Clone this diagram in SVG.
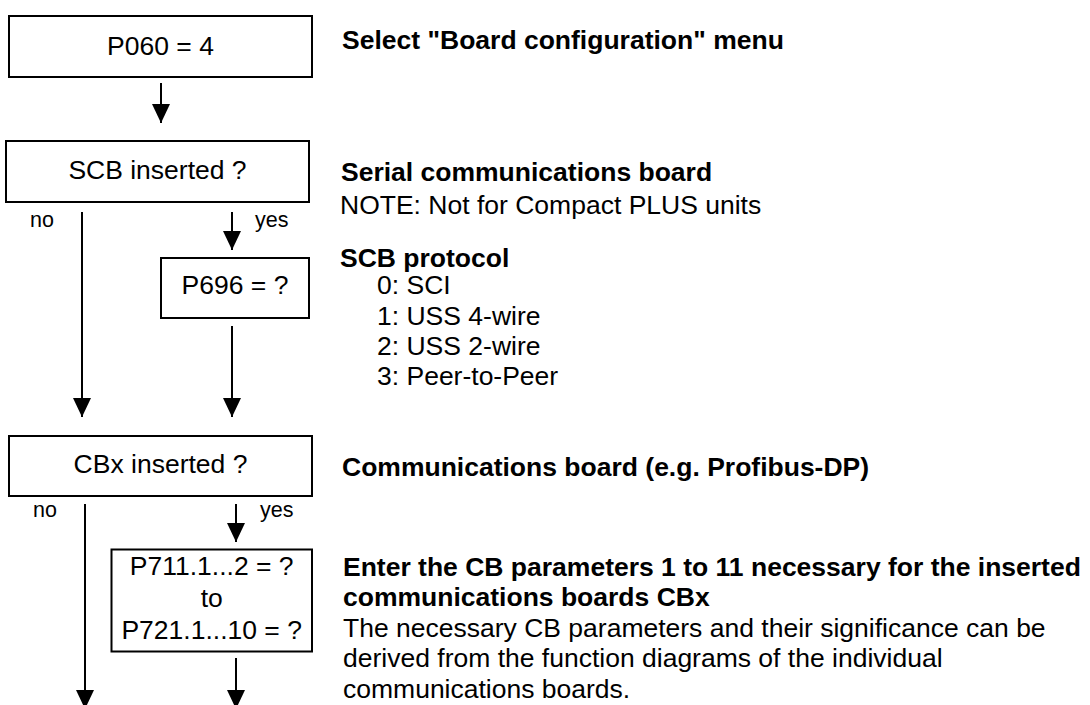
<svg xmlns="http://www.w3.org/2000/svg" width="1090" height="705" viewBox="0 0 1090 705">
<defs>
<style>
.box{fill:#fff;stroke:#000;stroke-width:2}
.t{font-family:"Liberation Sans",Arial,sans-serif;font-size:26.5px;fill:#000}
.c{text-anchor:middle}
.b{font-weight:bold}
.lbl{font-family:"Liberation Sans",Arial,sans-serif;font-size:21.5px;fill:#000}
.ln{stroke:#000;stroke-width:2;fill:none;marker-end:url(#ah)}
</style>
<marker id="ah" markerUnits="userSpaceOnUse" markerWidth="19" markerHeight="18" viewBox="0 0 19 18" refX="19" refY="9" orient="auto">
<path d="M0,0 L19,9 L0,18 z" fill="#000"/>
</marker>
</defs>
<rect width="1090" height="705" fill="#fff"/>
<g id="connectors">
<line class="ln" x1="161" y1="83" x2="161" y2="123"/>
<line class="ln" x1="82" y1="212" x2="82" y2="417"/>
<line class="ln" x1="232" y1="212" x2="232" y2="250"/>
<line class="ln" x1="232" y1="326" x2="232" y2="417"/>
<line class="ln" x1="85" y1="504" x2="85" y2="709"/>
<line class="ln" x1="236" y1="504" x2="236" y2="542"/>
<line class="ln" x1="236" y1="658" x2="236" y2="709"/>
<text class="lbl" x="30" y="227">no</text>
<text class="lbl" x="255" y="227">yes</text>
<text class="lbl" x="33" y="517">no</text>
<text class="lbl" x="260" y="517">yes</text>
</g>
<g id="n1">
<rect class="box" x="9" y="16" width="303" height="61"/>
<text class="t c" x="160.5" y="55">P060 = 4</text>
</g>
<g id="n2">
<rect class="box" x="6" y="141" width="303" height="61"/>
<text class="t c" x="157.5" y="179">SCB inserted ?</text>
</g>
<g id="n3">
<rect class="box" x="161" y="258" width="148" height="60"/>
<text class="t c" x="235" y="294">P696 = ?</text>
</g>
<g id="n4">
<rect class="box" x="9" y="436" width="303" height="60"/>
<text class="t c" x="160.5" y="473">CBx inserted ?</text>
</g>
<g id="n5">
<rect class="box" x="111.5" y="549.5" width="200.5" height="102"/>
<text class="t c" x="211.7" y="575">P711.1...2 = ?</text>
<text class="t c" x="211.7" y="607">to</text>
<text class="t c" x="211.7" y="639">P721.1...10 = ?</text>
</g>
<g id="notes">
<text class="t b" x="342" y="49">Select "Board configuration" menu</text>
<text class="t b" x="341" y="181">Serial communications board</text>
<text class="t" x="340" y="214">NOTE: Not for Compact PLUS units</text>
<text class="t b" x="340" y="267">SCB protocol</text>
<text class="t" x="377" y="294">0: SCI</text>
<text class="t" x="377" y="325">1: USS 4-wire</text>
<text class="t" x="377" y="355">2: USS 2-wire</text>
<text class="t" x="377" y="385">3: Peer-to-Peer</text>
<text class="t b" x="342" y="476">Communications board (e.g. Profibus-DP)</text>
<text class="t b" x="343" y="576">Enter the CB parameters 1 to 11 necessary for the inserted</text>
<text class="t b" x="343" y="606">communications boards CBx</text>
<text class="t" x="343" y="637">The necessary CB parameters and their significance can be</text>
<text class="t" x="343" y="667">derived from the function diagrams of the individual</text>
<text class="t" x="343" y="698">communications boards.</text>
</g>
</svg>
